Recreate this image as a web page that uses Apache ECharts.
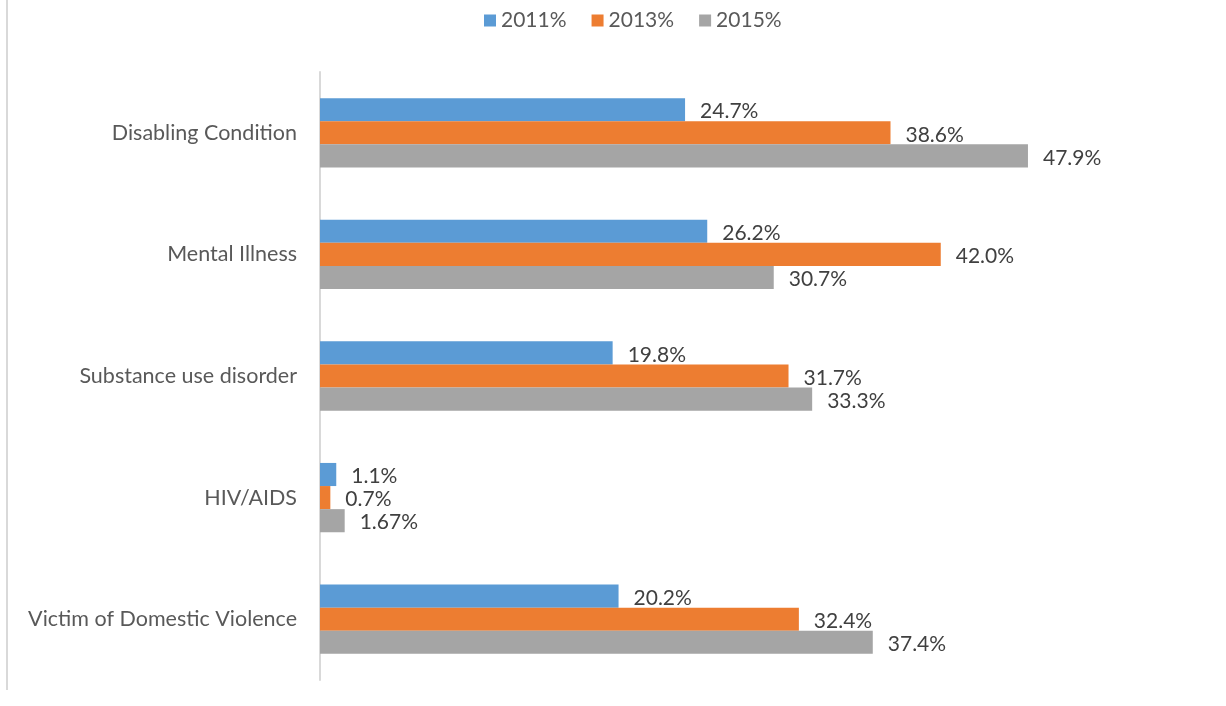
<!DOCTYPE html>
<html><head><meta charset="utf-8">
<script src="https://cdn.jsdelivr.net/npm/echarts@6/dist/echarts.min.js"></script>
<style>html,body{margin:0;padding:0;background:#fff}#c{width:1226px;height:706px}</style>
</head><body><div id="c"></div>
<script>
const categories = ["Disabling Condition", "Mental Illness", "Substance use disorder", "HIV/AIDS", "Victim of Domestic Violence"];
const seriesNames = ["2011%", "2013%", "2015%"];
const values2011 = [24.7, 26.2, 19.8, 1.1, 20.2];
const values2013 = [38.6, 42.0, 31.7, 0.7, 32.4];
const values2015 = [47.9, 30.7, 33.3, 1.67, 37.4];
const labels2011 = ["24.7%", "26.2%", "19.8%", "1.1%", "20.2%"];
const labels2013 = ["38.6%", "42.0%", "31.7%", "0.7%", "32.4%"];
const labels2015 = ["47.9%", "30.7%", "33.3%", "1.67%", "37.4%"];
const colors = ["#5b9bd5", "#ed7d31", "#a5a5a5"];

const font = "Lato, 'Open Sans', sans-serif";
function mk(name, vals, labs, color) {
  return {
    name: name, type: 'bar', data: vals, barGap: '0%', barCategoryGap: '43%',
    itemStyle: { color: color },
    label: { show: true, position: 'right', distance: 15, color: '#404040', fontSize: 21, fontFamily: font,
      offset: [0, 2], formatter: p => labs[p.dataIndex] }
  };
}
const chart = echarts.init(document.getElementById('c'));
chart.setOption({
  animation: false,
  legend: { top: 5, left: 479, itemWidth: 12, itemHeight: 12, itemGap: 25,
    textStyle: { fontSize: 21, color: '#595959', fontFamily: font }, icon: 'rect' },
  grid: { left: 320, right: 167, top: 72, bottom: 26, containLabel: false },
  xAxis: { type: 'value', min: 0, max: 50, show: false },
  yAxis: { type: 'category', data: categories, inverse: true,
    axisLine: { show: true, lineStyle: { color: '#d9d9d9', width: 2 } },
    axisTick: { show: false },
    axisLabel: { fontSize: 21.5, color: '#595959', fontFamily: font, margin: 23 } },
  graphic: [{ type: 'line', shape: { x1: 7, y1: 0, x2: 7, y2: 690 }, style: { stroke: '#d9d9d9', lineWidth: 2 } }],
  series: [mk(seriesNames[0], values2011, labels2011, colors[0]),
           mk(seriesNames[1], values2013, labels2013, colors[1]),
           mk(seriesNames[2], values2015, labels2015, colors[2])]
});
</script></body></html>
